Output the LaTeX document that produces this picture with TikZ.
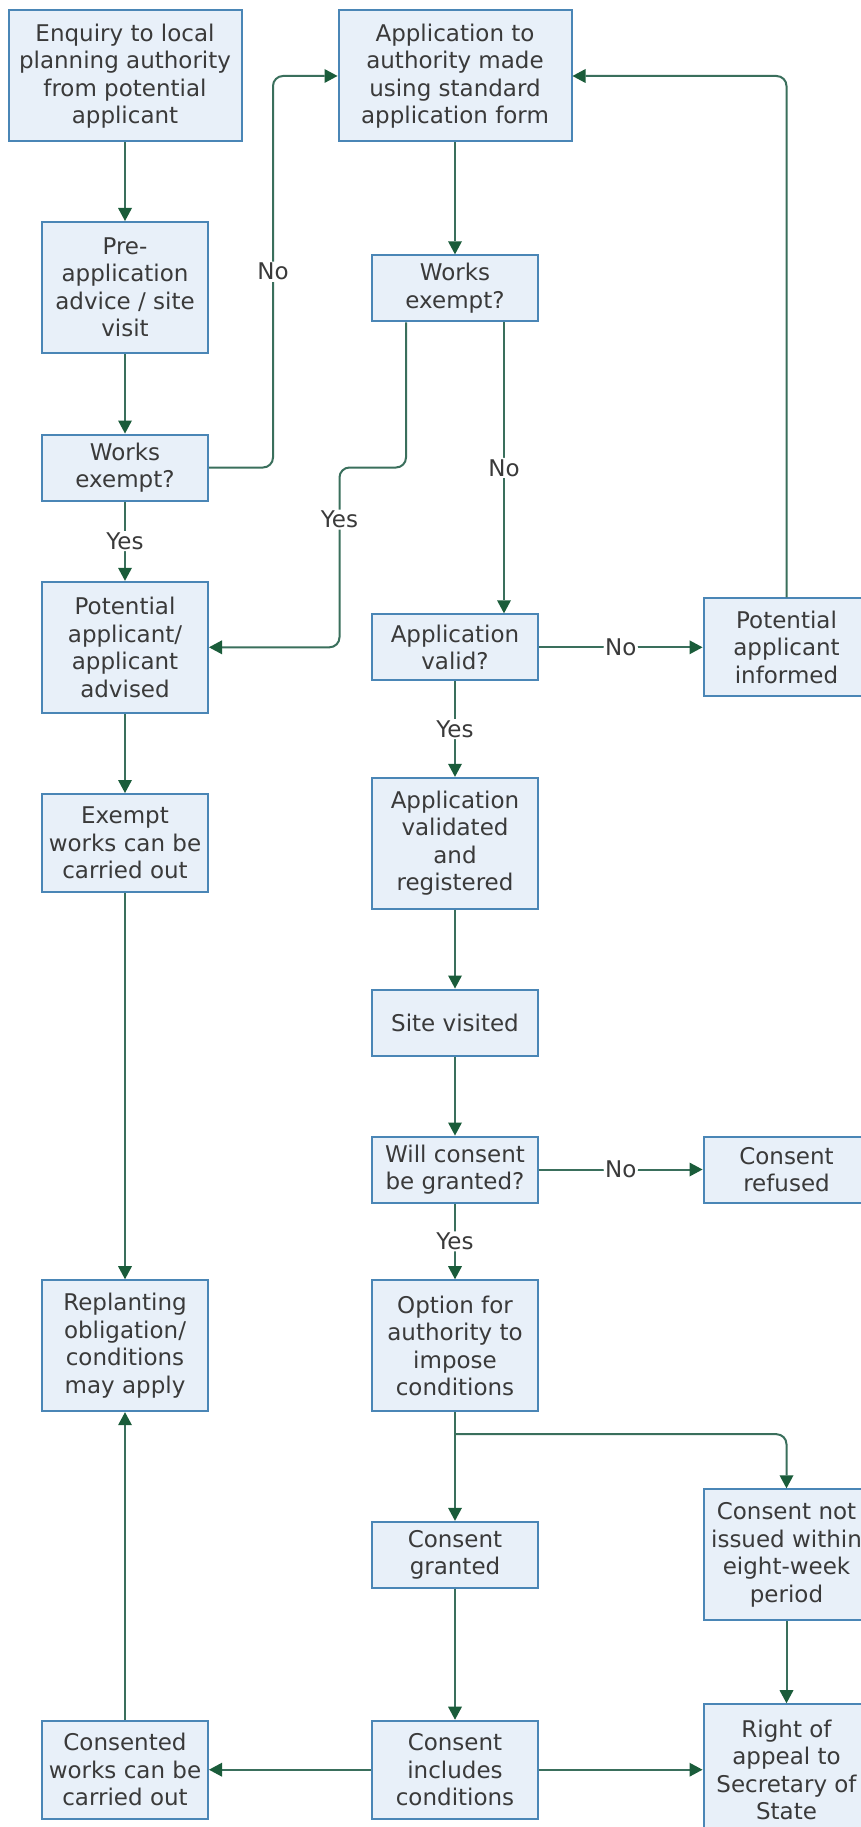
\documentclass[tikz,border=0pt]{standalone}
\usepackage{fontspec}
\setmainfont{DejaVu Sans}
\usetikzlibrary{arrows.meta}
\definecolor{boxline}{HTML}{4A86B6}
\definecolor{boxfill}{HTML}{E8F0F9}
\definecolor{linkgreen}{HTML}{3A6F5C}
\definecolor{tipgreen}{HTML}{1A5C3A}
\definecolor{ink}{HTML}{3A3A3A}

\begin{document}
\begin{tikzpicture}[x=1pt,y=-1pt,
  stepbox/.style={draw=boxline, fill=boxfill, line width=2pt, text=ink, align=center,
    font=\fontsize{23}{27.5}\selectfont, inner sep=0pt, minimum width=166pt},
  wide/.style={minimum width=233pt},
  h1/.style={minimum height=66pt},
  h3/.style={minimum height=98pt},
  h4/.style={minimum height=131pt},
  link/.style={draw=linkgreen, line width=2pt, rounded corners=10pt,
    -{Triangle[length=13pt,width=14pt,line width=0pt,color=tipgreen,fill=tipgreen]}},
  lbl/.style={fill=white, text=ink, font=\fontsize{23}{27.5}\selectfont, inner sep=1.5pt}
]
\useasboundingbox (0,0) rectangle (861,1827);
\fill[white] (0,0) rectangle (861,1827);
\clip (0,0) rectangle (861,1827);

% process steps
\node[stepbox,wide,h4] (enq) at (125,76) {Enquiry to local\\planning authority\\from potential\\applicant};
\node[stepbox,wide,h4] (app) at (455,76) {Application to\\authority made\\using standard\\application form};
\node[stepbox,h4] (pre) at (125,287.5) {Pre-\\application\\advice / site\\visit};
\node[stepbox,h1] (wexC) at (455,288.3) {Works\\exempt?};
\node[stepbox,h1] (wexL) at (125,467.5) {Works\\exempt?};
\node[stepbox,h4] (adv) at (125,647.3) {Potential\\applicant/\\applicant\\advised};
\node[stepbox,h1] (valid) at (455,647.3) {Application\\valid?};
\node[stepbox,h3] (inf) at (786.5,647.3) {Potential\\applicant\\informed};
\node[stepbox,h3] (exw) at (125,843) {Exempt\\works can be\\carried out};
\node[stepbox,h4] (vreg) at (455,843.3) {Application\\validated\\and\\registered};
\node[stepbox,h1] (site) at (455,1022.5) {Site visited};
\node[stepbox,h1] (will) at (455,1169.5) {Will consent\\be granted?};
\node[stepbox,h1] (ref) at (786.5,1169.5) {Consent\\refused};
\node[stepbox,h4] (repl) at (125,1345.7) {Replanting\\obligation/\\conditions\\may apply};
\node[stepbox,h4] (opt) at (455,1345.7) {Option for\\authority to\\impose\\conditions};
\node[stepbox,h4] (notiss) at (786.5,1554.8) {Consent not\\issued within\\eight-week\\period};
\node[stepbox,h1] (gran) at (455,1554.8) {Consent\\granted};
\node[stepbox,h3] (cw) at (125,1769.7) {Consented\\works can be\\carried out};
\node[stepbox,h3] (incl) at (455,1769.7) {Consent\\includes\\conditions};
\node[stepbox,h4] (appeal) at (786.5,1769.7) {Right of\\appeal to\\Secretary of\\State};

% routing columns
\coordinate (xNoL) at (273,0);
\coordinate (xYesC) at (406,0);
\coordinate (xJog) at (339.5,0);
\coordinate (xNoC) at (504,0);

% connectors
\draw[link] (enq) -- (pre);
\draw[link] (pre) -- (wexL);
\draw[link] (wexL) -- node[lbl]{Yes} (adv);
\draw[link] (wexL.east) -- (wexL.east -| xNoL) -- node[lbl]{No} (app.west -| xNoL) -- (app.west);
\draw[link] (app) -- (wexC);
\draw[link] (wexC.south -| xYesC) -- (xYesC |- wexL.east) -- (xJog |- wexL.east)
  -- node[lbl,pos=0.29]{Yes} (xJog |- adv.east) -- (adv.east);
\draw[link] (wexC.south -| xNoC) -- node[lbl]{No} (valid.north -| xNoC);
\draw[link] (valid) -- node[lbl]{No} (inf);
\draw[link] (inf.north) |- (app.east);
\draw[link] (valid) -- node[lbl]{Yes} (vreg);
\draw[link] (adv) -- (exw);
\draw[link] (exw) -- (repl);
\draw[link] (vreg) -- (site);
\draw[link] (site) -- (will);
\draw[link] (will) -- node[lbl]{No} (ref);
\draw[link] (will) -- node[lbl]{Yes} (opt);
\draw[link] (opt) -- (gran);
\path (opt.south) ++(0,22) coordinate (split);
\draw[link] (split) -| (notiss.north);
\draw[link] (gran) -- (incl);
\draw[link] (incl) -- (cw);
\draw[link] (incl) -- (appeal);
\draw[link] (notiss) -- (appeal);
\draw[link] (cw) -- (repl);
\end{tikzpicture}
\end{document}
